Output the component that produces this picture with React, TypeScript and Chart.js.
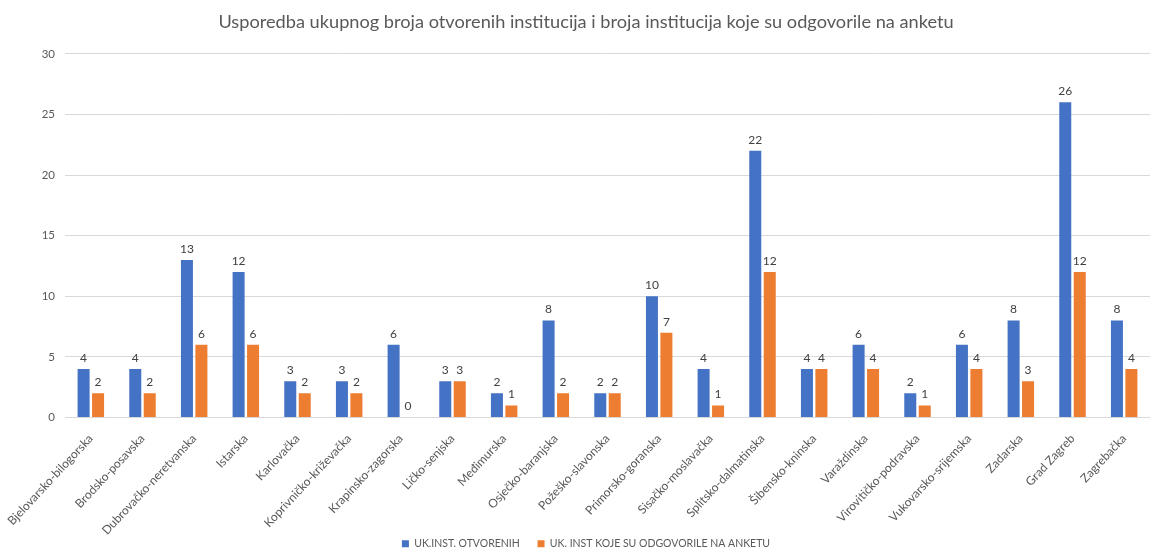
import React, { useEffect, useRef } from "react";
import { Chart, registerables } from "chart.js";

Chart.register(...registerables);

const categories = [
  "Bjelovarsko-bilogorska",
  "Brodsko-posavska",
  "Dubrovačko-neretvanska",
  "Istarska",
  "Karlovačka",
  "Koprivničko-križevačka",
  "Krapinsko-zagorska",
  "Ličko-senjska",
  "Međimurska",
  "Osječko-baranjska",
  "Požeško-slavonska",
  "Primorsko-goranska",
  "Sisačko-moslavačka",
  "Splitsko-dalmatinska",
  "Šibensko-kninska",
  "Varaždinska",
  "Virovitičko-podravska",
  "Vukovarsko-srijemska",
  "Zadarska",
  "Grad Zagreb",
  "Zagrebačka",
];

const otvorenih = [4, 4, 13, 12, 3, 3, 6, 3, 2, 8, 2, 10, 4, 22, 4, 6, 2, 6, 8, 26, 8];
const odgovorile = [2, 2, 6, 6, 2, 2, 0, 3, 1, 2, 2, 7, 1, 12, 4, 4, 1, 4, 3, 12, 4];

const seriesNames = ["UK.INST. OTVORENIH", "UK. INST KOJE SU ODGOVORILE NA ANKETU"];
const titleText = "Usporedba ukupnog broja otvorenih institucija i broja institucija koje su odgovorile na anketu";

const FONT = "Lato, 'Open Sans', sans-serif";

const valueLabels = {
  id: "valueLabels",
  afterDatasetsDraw(chart: any) {
    const ctx = chart.ctx;
    ctx.save();
    ctx.font = `12px ${FONT}`;
    ctx.fillStyle = "#404040";
    ctx.textAlign = "center";
    ctx.textBaseline = "bottom";
    chart.data.datasets.forEach((ds: any, i: number) => {
      const meta = chart.getDatasetMeta(i);
      meta.data.forEach((bar: any, j: number) => {
        ctx.fillText(String(ds.data[j]), bar.x, bar.y - 5);
      });
    });
    ctx.restore();
  },
};

export default function App() {
  const ref = useRef<HTMLCanvasElement>(null);
  useEffect(() => {
    document.body.style.margin = "0";
    const chart = new Chart(ref.current!, {
      type: "bar",
      data: {
        labels: categories,
        datasets: [
          {
            label: seriesNames[0],
            data: otvorenih,
            backgroundColor: "#4472C4",
            categoryPercentage: 0.56,
            barPercentage: 0.83,
          },
          {
            label: seriesNames[1],
            data: odgovorile,
            backgroundColor: "#ED7D31",
            categoryPercentage: 0.56,
            barPercentage: 0.83,
          },
        ],
      },
      options: {
        animation: false,
        responsive: false,
        maintainAspectRatio: false,
        layout: { padding: { left: 22, right: 7, top: 8, bottom: -9 } },
        plugins: {
          title: {
            display: true,
            text: titleText,
            color: "#595959",
            font: { family: FONT, size: 18.2, weight: "normal" },
            padding: { top: 3, bottom: 21 },
          },
          legend: {
            position: "bottom",
            labels: {
              boxWidth: 7,
              boxHeight: 7,
              color: "#595959",
              font: { family: FONT, size: 10.5 },
              padding: 2,
              generateLabels(chart: any) {
                const items = Chart.defaults.plugins.legend.labels.generateLabels(chart);
                return items.map((it: any, i: number) => ({
                  ...it,
                  text: i < items.length - 1 ? it.text + "\u2003\u2003" : it.text,
                  lineWidth: 0,
                }));
              },
            },
          },
          tooltip: { enabled: false },
        },
        scales: {
          x: {
            grid: { display: false },
            border: { display: false },
            ticks: {
              color: "#595959",
              font: { family: FONT, size: 12 },
              minRotation: 47,
              maxRotation: 47,
              autoSkip: false,
              padding: 6,
            },
            afterFit(scale: any) {
              scale.height = 119;
            },
          },
          y: {
            min: 0,
            max: 30,
            border: { display: false },
            grid: { color: "#d9d9d9", tickLength: 8, drawTicks: false },
            ticks: {
              stepSize: 5,
              color: "#595959",
              font: { family: FONT, size: 11.5 },
              padding: 10,
            },
            afterFit(scale: any) {
              scale.width = 43;
            },
          },
        },
      },
      plugins: [valueLabels],
    });
    return () => chart.destroy();
  }, []);
  return (
    <div style={{ position: "absolute", left: 0, top: 0, width: 1157, height: 550 }}>
      <canvas ref={ref} width={1157} height={550} style={{ width: 1157, height: 550 }} />
    </div>
  );
}
